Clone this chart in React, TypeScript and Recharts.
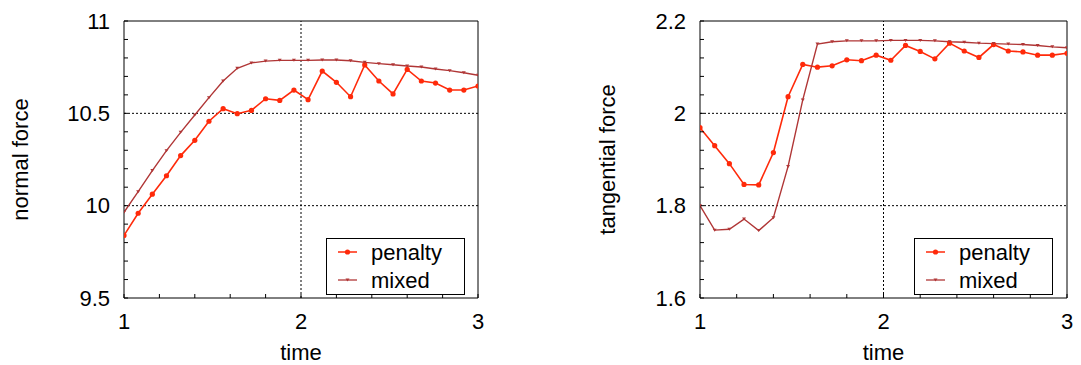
import React from 'react';
import { LineChart, Line, XAxis, YAxis, ReferenceLine, Legend } from 'recharts';

const time = [1, 1.08, 1.16, 1.24, 1.32, 1.4, 1.48, 1.56, 1.64, 1.72, 1.8, 1.88, 1.96, 2.04, 2.12, 2.2, 2.28, 2.36, 2.44, 2.52, 2.6, 2.68, 2.76, 2.84, 2.92, 3];

const normalPenalty = [9.839, 9.959, 10.062, 10.162, 10.271, 10.354, 10.457, 10.525, 10.498, 10.516, 10.579, 10.57, 10.626, 10.574, 10.729, 10.668, 10.59, 10.762, 10.675, 10.605, 10.738, 10.675, 10.664, 10.626, 10.626, 10.648];
const normalMixed = [9.964, 10.076, 10.19, 10.298, 10.397, 10.491, 10.585, 10.675, 10.744, 10.773, 10.783, 10.787, 10.787, 10.787, 10.789, 10.789, 10.785, 10.776, 10.769, 10.763, 10.756, 10.751, 10.74, 10.731, 10.72, 10.706];

const tangPenalty = [1.969, 1.93, 1.891, 1.846, 1.845, 1.915, 2.036, 2.106, 2.1, 2.103, 2.116, 2.114, 2.126, 2.115, 2.147, 2.134, 2.118, 2.152, 2.135, 2.121, 2.149, 2.135, 2.133, 2.126, 2.126, 2.13];
const tangMixed = [1.8, 1.747, 1.749, 1.771, 1.746, 1.774, 1.885, 2.029, 2.15, 2.155, 2.157, 2.157, 2.157, 2.158, 2.158, 2.158, 2.157, 2.155, 2.154, 2.152, 2.151, 2.15, 2.149, 2.147, 2.144, 2.142];

const xTicks = [1, 1.2, 1.4, 1.6, 1.8, 2, 2.2, 2.4, 2.6, 2.8, 3];
const xLabels = [1, 2, 3];

const normalTicks = [9.5, 9.6, 9.7, 9.8, 9.9, 10, 10.1, 10.2, 10.3, 10.4, 10.5, 10.6, 10.7, 10.8, 10.9, 11];
const normalLabels = [9.5, 10, 10.5, 11];
const normalGrid = [10, 10.5];

const tangTicks = [1.6, 1.64, 1.68, 1.72, 1.76, 1.8, 1.84, 1.88, 1.92, 1.96, 2, 2.04, 2.08, 2.12, 2.16, 2.2];
const tangLabels = [1.6, 1.8, 2, 2.2];
const tangGrid = [1.8, 2];

const seriesNames = ['penalty', 'mixed'];

const FONT = '"Liberation Sans", Arial, Helvetica, sans-serif';
const PEN = '#ff2a0a';
const MIX = '#b03636';
const FS = 22;

const normalData = time.map((t, i) => ({ t, penalty: normalPenalty[i], mixed: normalMixed[i] }));
const tangData = time.map((t, i) => ({ t, penalty: tangPenalty[i], mixed: tangMixed[i] }));

const fmt = (labels: number[]) => (v: number) => {
  const hit = labels.find((l) => Math.abs(l - v) < 1e-6);
  return hit === undefined ? '' : String(hit);
};

const PenDot = (p: any) => {
  const { cx, cy, index } = p;
  if (cx == null || cy == null) return <g key={`pd${index}`} />;
  return <circle key={`pd${index}`} cx={cx} cy={cy} r={2.6} fill={PEN} stroke="none" />;
};

const MixDot = (p: any) => {
  const { cx, cy, index } = p;
  if (cx == null || cy == null) return <g key={`md${index}`} />;
  return <path key={`md${index}`} d={`M${cx - 2},${cy - 1.5} L${cx + 2},${cy - 1.5} L${cx},${cy + 1.5} Z`} fill={MIX} stroke="none" />;
};

const LegendBox = () => (
  <svg width={139} height={57} style={{ display: 'block' }}>
    <rect x={0.5} y={0.5} width={138} height={56} fill="#fff" stroke="#000" strokeWidth={1} />
    <line x1={12} y1={14} x2={31} y2={14} stroke={PEN} strokeWidth={1.5} />
    <circle cx={21.5} cy={14} r={2.6} fill={PEN} />
    <text x={45} y={14} dominantBaseline="central" fontSize={FS} fontFamily={FONT} fill="#000">{seriesNames[0]}</text>
    <line x1={12} y1={42} x2={31} y2={42} stroke={MIX} strokeWidth={1.3} />
    <path d="M19.5,40.5 L23.5,40.5 L21.5,43.5 Z" fill={MIX} />
    <text x={45} y={42} dominantBaseline="central" fontSize={FS} fontFamily={FONT} fill="#000">{seriesNames[1]}</text>
  </svg>
);

type PanelProps = {
  data: any[];
  width: number;
  marginLeft: number;
  marginRight: number;
  yTicks: number[];
  yLabels: number[];
  grid: number[];
  domain: [number, number];
  yTitle: string;
  yTitleX: number;
  xTitleX: number;
  legendLeft: number;
};

const tickStyle = { fontSize: FS, fill: '#000', fontFamily: FONT };

const Panel = (p: PanelProps) => (
  <LineChart
    width={p.width}
    height={365}
    data={p.data}
    margin={{ top: 20, right: p.marginRight, bottom: 27, left: p.marginLeft }}
    style={{ fontFamily: FONT }}
  >
    <XAxis
      xAxisId="b"
      dataKey="t"
      type="number"
      domain={[1, 3]}
      ticks={xTicks}
      interval={0}
      tickFormatter={fmt(xLabels)}
      tickSize={-4}
      tickMargin={19}
      tick={tickStyle}
      stroke="#000"
      axisLine={{ stroke: '#000', strokeWidth: 1 }}
      tickLine={{ stroke: '#000' }}
      height={40}
      allowDataOverflow
      label={{
        content: () => (
          <text x={p.xTitleX} y={360} textAnchor="middle" fontSize={FS} fontFamily={FONT} fill="#000">time</text>
        ),
      }}
    />
    <XAxis
      xAxisId="top"
      orientation="top"
      type="number"
      domain={[1, 3]}
      ticks={xTicks}
      interval={0}
      tick={false}
      tickSize={-4}
      stroke="#000"
      axisLine={{ stroke: '#000', strokeWidth: 1 }}
      tickLine={{ stroke: '#000' }}
      height={1}
      allowDataOverflow
    />
    <YAxis
      yAxisId="l"
      type="number"
      domain={p.domain}
      ticks={p.yTicks}
      interval={0}
      tickFormatter={fmt(p.yLabels)}
      tickSize={-4}
      tickMargin={18}
      tick={tickStyle}
      stroke="#000"
      axisLine={{ stroke: '#000', strokeWidth: 1 }}
      tickLine={{ stroke: '#000' }}
      width={60}
      allowDataOverflow
      label={{
        content: () => (
          <text
            x={p.yTitleX}
            y={159.5}
            transform={`rotate(-90 ${p.yTitleX} 159.5)`}
            textAnchor="middle"
            dominantBaseline="central"
            fontSize={FS}
            fontFamily={FONT}
            fill="#000"
          >
            {p.yTitle}
          </text>
        ),
      }}
    />
    <YAxis
      yAxisId="r"
      orientation="right"
      type="number"
      domain={p.domain}
      ticks={p.yTicks}
      interval={0}
      tick={false}
      tickSize={-4}
      stroke="#000"
      axisLine={{ stroke: '#000', strokeWidth: 1 }}
      tickLine={{ stroke: '#000' }}
      width={1}
      allowDataOverflow
    />
    {p.grid.map((g) => (
      <ReferenceLine key={`g${g}`} xAxisId="b" yAxisId="l" y={g} stroke="#000" strokeWidth={1} strokeDasharray="2 2" />
    ))}
    <ReferenceLine xAxisId="b" yAxisId="l" x={2} stroke="#000" strokeWidth={1} strokeDasharray="2 2" />
    <Line
      xAxisId="b"
      yAxisId="l"
      type="linear"
      dataKey="penalty"
      name={seriesNames[0]}
      stroke={PEN}
      strokeWidth={1.6}
      dot={PenDot}
      activeDot={false}
      isAnimationActive={false}
    />
    <Line
      xAxisId="b"
      yAxisId="l"
      type="linear"
      dataKey="mixed"
      name={seriesNames[1]}
      stroke={MIX}
      strokeWidth={1.4}
      dot={MixDot}
      activeDot={false}
      isAnimationActive={false}
    />
    <Legend
      layout="vertical"
      align="center"
      verticalAlign="middle"
      content={() => <LegendBox />}
      wrapperStyle={{ position: 'absolute', left: p.legendLeft, top: 237.5, width: 139, height: 57, margin: 0 }}
    />
  </LineChart>
);

export default function App() {
  return (
    <div style={{ position: 'absolute', left: 0, top: 0, width: 1081, height: 365, background: '#fff', fontFamily: FONT }}>
      <div style={{ position: 'absolute', left: 0, top: 0 }}>
        <Panel
          data={normalData}
          width={540}
          marginLeft={64}
          marginRight={61}
          yTicks={normalTicks}
          yLabels={normalLabels}
          grid={normalGrid}
          domain={[9.5, 11]}
          yTitle="normal force"
          yTitleX={20}
          xTitleX={301}
          legendLeft={325.5}
        />
      </div>
      <div style={{ position: 'absolute', left: 540, top: 0 }}>
        <Panel
          data={tangData}
          width={541}
          marginLeft={100}
          marginRight={13}
          yTicks={tangTicks}
          yLabels={tangLabels}
          grid={tangGrid}
          domain={[1.6, 2.2]}
          yTitle="tangential force"
          yTitleX={67}
          xTitleX={343.5}
          legendLeft={374}
        />
      </div>
    </div>
  );
}
